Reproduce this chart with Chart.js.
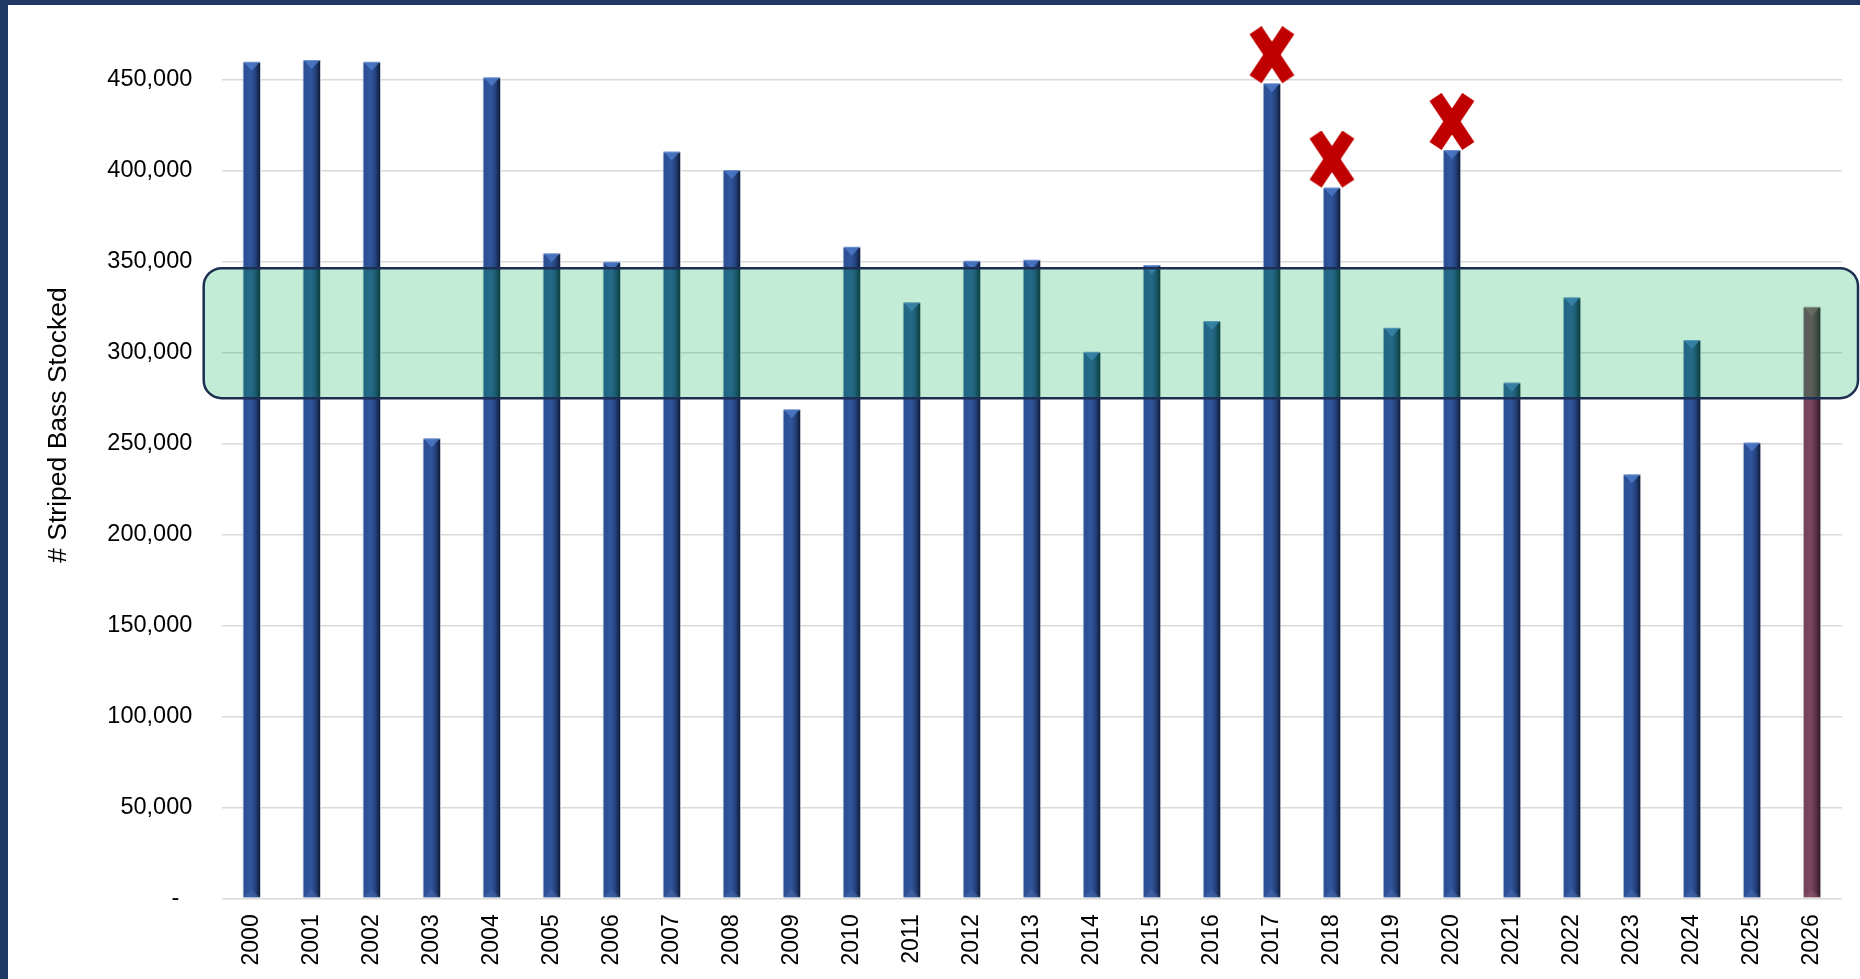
<!DOCTYPE html>
<html><head><meta charset="utf-8">
<script src="https://cdn.jsdelivr.net/npm/chart.js@4"></script>
<style>
html,body{margin:0;padding:0;background:#1f3864;width:1860px;height:979px;overflow:hidden}
#wrap{position:absolute;left:8px;top:5px;width:1852px;height:974px;background:#fff}
canvas{display:block}
</style></head><body><div id="wrap"><canvas id="c" width="1852" height="974"></canvas></div>
<script>
const years = ['2000','2001','2002','2003','2004','2005','2006','2007','2008','2009','2010','2011','2012','2013','2014','2015','2016','2017','2018','2019','2020','2021','2022','2023','2024','2025','2026'];
const stocked = [460000,461000,460000,253000,451500,354700,350100,410600,400500,268900,358300,327700,350600,351200,300600,348200,317500,448200,390800,313800,411500,283700,330500,233200,307000,250700,325300];
const projectedYears = ['2026'];
const crossedYears = ['2017','2018','2020'];
const targetRange = [275000, 346500];
const yTicks = [0,50000,100000,150000,200000,250000,300000,350000,400000,450000];
const yAxisMax = 480000;
const yAxisTitle = '# Striped Bass Stocked';

Chart.defaults.font.family = "Arial, 'Liberation Sans', sans-serif";
Chart.defaults.color = '#000';

// red X marker image
const xImg = document.createElement('canvas');
xImg.width = 46; xImg.height = 114;
(function(){
  const g = xImg.getContext('2d');
  const cx = 23, cy = 28.5, a = 16.4, b = 24.6;
  g.strokeStyle = '#c00000'; g.lineWidth = 14.5; g.lineCap = 'butt';
  g.beginPath(); g.moveTo(cx-a, cy-b); g.lineTo(cx+a, cy+b); g.stroke();
  g.beginPath(); g.moveTo(cx+a, cy-b); g.lineTo(cx-a, cy+b); g.stroke();
})();

const blueStops = [[0,'#4068b0'],[0.12,'#2c4e92'],[0.45,'#31569d'],[0.7,'#24427c'],[0.88,'#15264a'],[1,'#0b1428']];
const maroonStops = [[0,'#8c5872'],[0.12,'#74425a'],[0.45,'#7a4660'],[0.7,'#5e3349'],[0.88,'#3d2030'],[1,'#241219']];

function barFill(ctx){
  const chart = ctx.chart;
  const stops = projectedYears.includes(years[ctx.dataIndex]) ? maroonStops : blueStops;
  const xs = chart.scales.x;
  if (!chart.chartArea || !xs || !isFinite(xs.width) || xs.width <= 0) return stops[2][1];
  const cx = xs.getPixelForValue(ctx.dataIndex);
  const w = xs.width / years.length * 0.31;
  const gr = chart.ctx.createLinearGradient(cx - w/2, 0, cx + w/2, 0);
  stops.forEach(s => gr.addColorStop(s[0], s[1]));
  return gr;
}

const bevels = {
  id: 'bevels',
  afterDatasetDraw(chart, args){
    if (args.index !== 1) return;
    const ctx = chart.ctx;
    args.meta.data.forEach((el, i) => {
      const w = el.width, x = el.x, y = el.y, base = el.base;
      const proj = projectedYears.includes(years[i]);
      ctx.save();
      ctx.fillStyle = proj ? 'rgba(150,100,120,0.6)' : 'rgba(80,125,205,0.75)';
      ctx.beginPath(); ctx.moveTo(x - w/2 + 1, y); ctx.lineTo(x + w/2 - 1, y); ctx.lineTo(x, y + 9); ctx.closePath(); ctx.fill();
      ctx.fillStyle = proj ? 'rgba(150,100,120,0.35)' : 'rgba(80,115,180,0.4)';
      ctx.beginPath(); ctx.moveTo(x - w/2 + 1, base); ctx.lineTo(x + w/2 - 1, base); ctx.lineTo(x, base - 8); ctx.closePath(); ctx.fill();
      ctx.restore();
    });
  }
};

const targetBox = {
  id: 'targetBox',
  afterDatasetsDraw(chart){
    const {ctx, chartArea, scales} = chart;
    const y = scales.y;
    const top = y.getPixelForValue(targetRange[1]);
    const bot = y.getPixelForValue(targetRange[0]);
    const left = chartArea.left - 18, right = chartArea.right + 16;
    ctx.save();
    ctx.beginPath();
    ctx.roundRect(left, top, right - left, bot - top, 18);
    ctx.fillStyle = 'rgba(0,176,80,0.24)';
    ctx.fill();
    ctx.lineWidth = 2.5;
    ctx.strokeStyle = '#1c2f52';
    ctx.stroke();
    ctx.restore();
  }
};

new Chart(document.getElementById('c'), {
  data: {
    labels: years,
    datasets: [
      {
        type: 'line',
        data: stocked.map((v, i) => crossedYears.includes(years[i]) ? v : null),
        showLine: false,
        pointStyle: xImg,
        pointRadius: 5,
        order: -1,
        clip: false
      },
      {
        type: 'bar',
        data: stocked,
        backgroundColor: barFill,
        borderColor: 'rgba(196,202,214,0.9)',
        borderWidth: 1,
        barPercentage: 0.31,
        categoryPercentage: 1,
        order: 0
      }
    ]
  },
  options: {
    responsive: false,
    animation: false,
    events: [],
    layout: { padding: { top: 20.4, right: 18, bottom: 0, left: 0 } },
    plugins: { legend: { display: false }, tooltip: { enabled: false } },
    scales: {
      x: {
        grid: { display: false, drawTicks: false },
        border: { display: false },
        ticks: { autoSkip: false, minRotation: 90, maxRotation: 90, padding: 16, font: { size: 23 } },
        afterFit(s){ s.height = 80.7; }
      },
      y: {
        min: 0, max: yAxisMax,
        grid: { color: '#d9d9d9', lineWidth: 1.5, drawTicks: false },
        border: { display: false },
        afterBuildTicks(s){ s.ticks = yTicks.map(v => ({ value: v })); },
        ticks: {
          padding: 29.4,
          font: { size: 23.5 },
          callback: v => v === 0 ? '-  ' : v.toLocaleString('en-US')
        },
        title: {
          display: true,
          text: '          ' + yAxisTitle,
          font: { size: 26.5 },
          padding: { top: 35, bottom: 0 }
        },
        afterFit(s){ s.width = 213.7; s.paddingTop = 0; s.paddingBottom = 0; }
      }
    }
  },
  plugins: [bevels, targetBox]
});
</script></body></html>
